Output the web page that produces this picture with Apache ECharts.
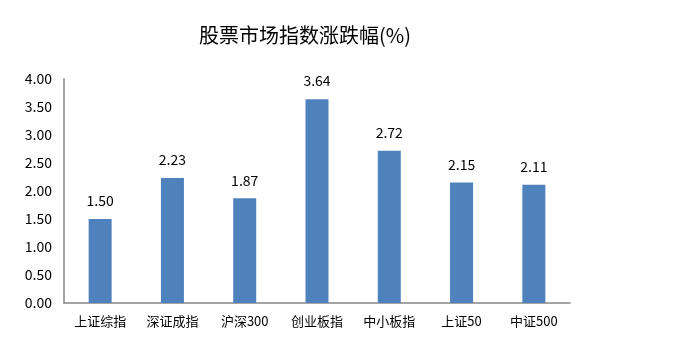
<!DOCTYPE html>
<html><head><meta charset="utf-8">
<script src="https://cdn.jsdelivr.net/npm/echarts@6/dist/echarts.min.js"></script>
<style>html,body{margin:0;padding:0;background:#fff}#c{width:690px;height:357px}</style>
</head><body><div id="c"></div>
<script>
const categories = ['上证综指','深证成指','沪深300','创业板指','中小板指','上证50','中证500'];
const values = [1.50, 2.23, 1.87, 3.64, 2.72, 2.15, 2.11];
const titleText = '股票市场指数涨跌幅(%)';
const yMin = 0, yMax = 4, yInterval = 0.5;

const chart = echarts.init(document.getElementById('c'));
const font = '"Noto Sans CJK SC", "DejaVu Sans", sans-serif';
chart.setOption({
  animation: false,
  title: {
    text: titleText, left: 300, top: 20, textAlign: 'center',
    textStyle: {fontFamily: font, fontSize: 20, fontWeight: 'normal', color: '#000'}
  },
  grid: {left: 64, right: 120, top: 79, bottom: 54},
  xAxis: {
    type: 'category', data: categories,
    axisLine: {lineStyle: {color: '#868686', width: 1.5}},
    axisTick: {show: false},
    axisLabel: {fontFamily: font, fontSize: 13, color: '#000', margin: 12}
  },
  yAxis: {
    type: 'value', min: yMin, max: yMax, interval: yInterval,
    axisLine: {show: true, lineStyle: {color: '#868686', width: 1.5}},
    axisTick: {show: false},
    splitLine: {show: false},
    axisLabel: {fontFamily: font, fontSize: 14, color: '#000', margin: 12,
      formatter: v => v.toFixed(2)}
  },
  series: [{
    type: 'bar', data: values, barWidth: 23,
    itemStyle: {color: '#4F81BD'},
    label: {show: true, position: 'top', distance: 11, fontFamily: font, fontSize: 14, color: '#000',
      formatter: p => p.value.toFixed(2)}
  }]
});
</script></body></html>
